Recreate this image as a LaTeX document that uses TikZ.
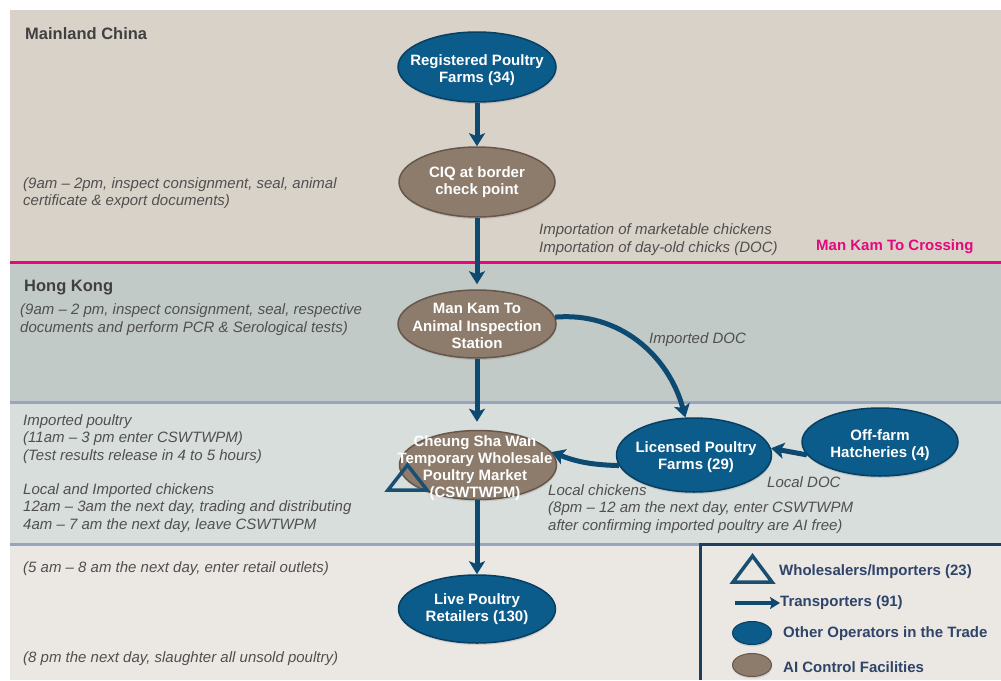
\documentclass[tikz,border=0pt]{standalone}
\usepackage{fontspec}
\setmainfont{Liberation Sans}
\usetikzlibrary{arrows.meta,shapes.geometric,shadows}
\definecolor{bandA}{HTML}{D9D2C9}
\definecolor{bandB}{HTML}{C2CAC7}
\definecolor{bandC}{HTML}{D8DEDC}
\definecolor{bandD}{HTML}{EBE8E4}
\definecolor{pinkline}{HTML}{E4087C}
\definecolor{sepline}{HTML}{97A3BF}
\definecolor{legborder}{HTML}{1F3D5C}
\definecolor{opblue}{HTML}{0B5C8A}
\definecolor{opblueD}{HTML}{073F63}
\definecolor{aibrown}{HTML}{8D7C6C}
\definecolor{aibrownD}{HTML}{66574A}
\definecolor{flowblue}{HTML}{0D4A72}
\definecolor{triblue}{HTML}{1B4F72}
\definecolor{notegray}{HTML}{505050}
\definecolor{headgray}{HTML}{404040}
\definecolor{legblue}{HTML}{2F4468}
\begin{document}
\begin{tikzpicture}[x=1pt,y=1pt,
  op/.style={ellipse, fill=opblue, draw=opblueD, line width=1.5pt, inner sep=0pt,
    drop shadow={opacity=.25,shadow xshift=.5pt,shadow yshift=-2pt}},
  ai/.style={ellipse, fill=aibrown, draw=aibrownD, line width=1.5pt, inner sep=0pt,
    drop shadow={opacity=.25,shadow xshift=.5pt,shadow yshift=-2pt}},
  nodetxt/.style={text=white, font=\bfseries\fontsize{15}{17.5}\selectfont, align=center, inner sep=0pt},
  note/.style={text=notegray, font=\itshape\fontsize{15}{17.5}\selectfont, align=left, anchor=base west, inner sep=0pt},
  region/.style={text=headgray, font=\bfseries\fontsize{16.5}{19}\selectfont, anchor=base west, inner sep=0pt},
  flow/.style={draw=flowblue, line width=5pt, -{Stealth[length=13pt,width=16pt,inset=3pt]}},
  wtri/.style={draw=triblue, line width=3.5pt, line join=miter},
  legtxt/.style={text=legblue, font=\bfseries\fontsize{15}{17}\selectfont, anchor=west, inner sep=0pt}
]
\useasboundingbox (0,0) rectangle (1001,-680);
\fill[white] (0,0) rectangle (1001,-680);
% bands
\fill[bandA] (10,-10) rectangle (1001,-262);
\fill[bandB] (10,-262) rectangle (1001,-402);
\fill[bandC] (10,-402) rectangle (1001,-544);
\fill[bandD] (10,-544) rectangle (1001,-680);
\draw[pinkline, line width=3pt] (10,-262) -- (1001,-262);
\draw[sepline, line width=3pt] (10,-402) -- (1001,-402);
\draw[sepline, line width=3pt] (10,-544) -- (700,-544);
\draw[legborder, line width=3pt] (700,-680) -- (700,-544.5) -- (1001,-544.5);

% region labels
\node[region] (mc) at (25,-39) {Mainland China};
\node[region] (hk) at (24,-291) {Hong Kong};
\node[region, text=pinkline, font=\bfseries\fontsize{15}{17}\selectfont] (mkc) at (816,-250) {Man Kam To Crossing};

% notes (base anchor = baseline of last line)
\node[note] (n1) at (23,-205.5) {(9am – 2pm, inspect consignment, seal, animal\\certificate \& export documents)};
\node[note] (n2) at (539,-252) {Importation of marketable chickens\\Importation of day-old chicks (DOC)};
\node[note] (n3) at (20,-332) {(9am – 2 pm, inspect consignment, seal, respective\\documents and perform PCR \& Serological tests)};
\node[note] (n4) at (649,-343) {Imported DOC};
\node[note] (n5) at (23,-460) {Imported poultry\\(11am – 3 pm enter CSWTWPM)\\(Test results release in 4 to 5 hours)};
\node[note] (n6) at (23,-529) {Local and Imported chickens\\12am – 3am the next day, trading and distributing\\4am – 7 am the next day, leave CSWTWPM};
\node[note] (n7) at (548,-530) {Local chickens\\(8pm – 12 am the next day, enter CSWTWPM\\after confirming imported poultry are AI free)};
\node[note] (n8) at (767,-487) {Local DOC};
\node[note] (n9) at (23,-572) {(5 am – 8 am the next day, enter retail outlets)};
\node[note] (n10) at (23,-662) {(8 pm the next day, slaughter all unsold poultry)};

% main nodes
\node[op, minimum width=158pt, minimum height=70pt,
  label={[nodetxt, yshift=-3pt]center:Registered Poultry\\Farms (34)}] (reg) at (477,-67) {};
\node[ai, minimum width=156pt, minimum height=70pt,
  label={[nodetxt]center:CIQ at border\\check point}] (ciq) at (477,-182) {};
\node[ai, minimum width=158pt, minimum height=68pt,
  label={[nodetxt, yshift=-2pt]center:Man Kam To\\Animal Inspection\\Station}] (mkt) at (477,-324) {};
\node[ai, minimum width=157pt, minimum height=69pt,
  label={[nodetxt, xshift=-3pt, yshift=-3pt, font=\bfseries\fontsize{15}{17}\selectfont]center:Cheung Sha Wan\\Temporary Wholesale\\Poultry Market\\(CSWTWPM)}] (csw) at (478,-465) {};
\node[op, minimum width=155pt, minimum height=74pt,
  label={[nodetxt, xshift=2pt, yshift=-2pt]center:Licensed Poultry\\Farms (29)}] (lic) at (694,-455) {};
\node[op, minimum width=156pt, minimum height=68pt,
  label={[nodetxt, yshift=-3pt]center:Off-farm\\Hatcheries (4)}] (off) at (880,-442) {};
\node[op, minimum width=157pt, minimum height=68pt,
  label={[nodetxt]center:Live Poultry\\Retailers (130)}] (live) at (477,-609) {};

% wholesaler triangle on market
\draw[wtri] (388,-490) -- (427,-490) -- (407.5,-465) -- cycle;

% flows
\draw[flow] (reg.south) -- (ciq.north);
\draw[flow, shorten >=5pt] (ciq.south) -- (mkt.north);
\draw[flow, shorten >=8pt] (mkt.south) -- (mkt.south |- csw.north);
\draw[flow] (csw.south -| live.north) -- (live.north);
\draw[flow] (mkt.5) to[out=5,in=105] (lic.103);
\draw[flow] (lic.188) to[bend left=10] (csw.10);
\draw[flow] (off.190) -- (lic.5);

% legend
\draw[wtri] (733,-582) -- (772,-582) -- (752.5,-556) -- cycle;
\node[legtxt] (lw) at (779,-572) {Wholesalers/Importers (23)};
\coordinate (la) at (735,-603);
\node[legtxt] (lt) at (780,-603) {Transporters (91)};
\draw[draw=flowblue, line width=4pt, -{Stealth[length=10pt,width=12pt,inset=2pt]}] (la) -- (lt.west);
\node[op, minimum width=39pt, minimum height=23pt, line width=1pt] (lo) at (752,-633) {};
\node[legtxt] (lot) at (783,-634) {Other Operators in the Trade};
\node[ai, minimum width=39pt, minimum height=23pt, line width=1pt] (lai) at (752,-665) {};
\node[legtxt] (lait) at (783,-667) {AI Control Facilities};
\end{tikzpicture}
\end{document}
